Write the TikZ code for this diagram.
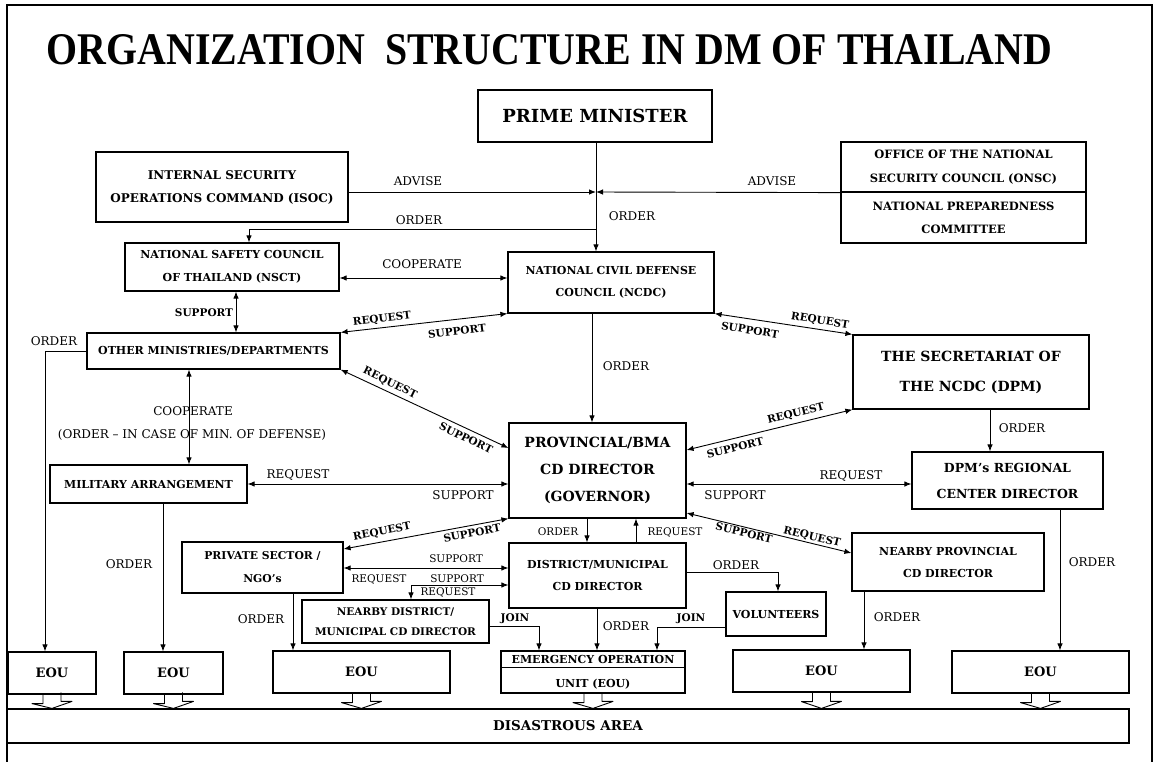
\documentclass[tikz,border=0pt]{standalone}
\usepackage{graphicx}
\usepackage{fontspec}
\setmainfont{DejaVu Serif}
\newfontfamily\titlefont{Liberation Serif}
\usetikzlibrary{arrows.meta}
\newcommand{\setfs}[2]{\fontsize{#1}{#2}\selectfont}

\begin{document}
\begin{tikzpicture}[x=1pt, y=-1pt,
    box/.style 2 args={draw, line width=1.2pt, inner sep=0pt, align=center, font=\bfseries\setfs{#1}{#2}},
    lbl/.style={inner sep=0pt, font=\setfs{12}{14}},
    lbls/.style={inner sep=0pt, font=\setfs{10.5}{12}},
    lblb/.style={inner sep=0pt, font=\bfseries\setfs{10.5}{12}},
    arr/.style={line width=0.9pt, -{Latex[length=7pt,width=5.5pt]}},
    darr/.style={line width=0.9pt, {Latex[length=7pt,width=5.5pt]}-{Latex[length=7pt,width=5.5pt]}},
    hol/.style={line width=0.9pt, line join=round}]
    \useasboundingbox (0,0) rectangle (1157,761);
    \draw[line width=1.5pt] (7,775) -- (7,5) -- (1152,5) -- (1152,775);

    % title
    \node (title) at (549.5,50) {\resizebox{1005pt}{30pt}{\titlefont\bfseries ORGANIZATION\ \ STRUCTURE IN DM OF THAILAND}};

    % boxes
    \node[box={18}{22}, minimum width=234pt, minimum height=52pt] (pm) at (595,116) {PRIME MINISTER};
    \node[box={12}{23}, minimum width=252pt, minimum height=70pt] (isoc) at (222,187) {INTERNAL SECURITY\\OPERATIONS COMMAND (ISOC)};
    \node[box={11.5}{24}, minimum width=245pt, minimum height=50pt] (onsc) at (963.5,167) {OFFICE OF THE NATIONAL\\SECURITY COUNCIL (ONSC)};
    \node[box={11.5}{23}, minimum width=245pt, minimum height=51pt] (npc) at (963.5,217.5) {NATIONAL PREPAREDNESS\\COMMITTEE};
    \node[box={11}{22}, minimum width=206pt, minimum height=61pt] (ncdc) at (611,282.5) {NATIONAL CIVIL DEFENSE\\COUNCIL (NCDC)};
    \node[box={11}{23}, minimum width=214pt, minimum height=48pt] (nsct) at (232,267) {NATIONAL SAFETY COUNCIL\\OF THAILAND (NSCT)};
    \node[box={11}{13}, minimum width=253pt, minimum height=36pt] (other) at (213.5,351) {OTHER MINISTRIES/DEPARTMENTS};
    \node[box={11}{13}, minimum width=197pt, minimum height=38pt] (mil) at (148.5,484) {MILITARY ARRANGEMENT};
    \node[box={14}{27}, minimum width=177pt, minimum height=95pt] (prov) at (597.5,470.5) {PROVINCIAL/BMA\\CD DIRECTOR\\(GOVERNOR)};
    \node[box={14}{30}, minimum width=236pt, minimum height=74pt] (secr) at (971,372) {THE SECRETARIAT OF\\THE NCDC (DPM)};
    \node[box={12.5}{26}, minimum width=191pt, minimum height=57pt] (dpm) at (1007.5,480.5) {DPM’s REGIONAL\\CENTER DIRECTOR};
    \node[box={10.8}{23}, minimum width=161pt, minimum height=51pt] (priv) at (262.5,567.5) {PRIVATE SECTOR /\\NGO’s};
    \node[box={11}{22}, minimum width=177pt, minimum height=65pt] (dist) at (597.5,575.5) {DISTRICT/MUNICIPAL\\CD DIRECTOR};
    \node[box={10.5}{20}, minimum width=187pt, minimum height=43pt] (ndist) at (395.5,621.5) {NEARBY DISTRICT/\\MUNICIPAL CD DIRECTOR};
    \node[box={11}{13}, minimum width=100pt, minimum height=44pt] (vol) at (776,614) {VOLUNTEERS};
    \node[box={11}{22}, minimum width=192pt, minimum height=58pt] (nprov) at (948,562) {NEARBY PROVINCIAL\\CD DIRECTOR};
    \node[box={13}{15}, minimum width=88pt, minimum height=42pt] (eou1) at (52,673) {EOU};
    \node[box={13}{15}, minimum width=99pt, minimum height=42pt] (eou2) at (173.5,673) {EOU};
    \node[box={13}{15}, minimum width=177pt, minimum height=42pt] (eou3) at (361.5,672) {EOU};
    \node[box={11}{24}, minimum width=184pt, minimum height=42pt] (eoum) at (593,672) {EMERGENCY OPERATION\\UNIT (EOU)};
    \node[box={13}{15}, minimum width=177pt, minimum height=42pt] (eou5) at (821.5,671) {EOU};
    \node[box={13}{15}, minimum width=177pt, minimum height=42pt] (eou6) at (1040.5,672) {EOU};
    \node[box={13.5}{16}, minimum width=1122pt, minimum height=34pt] (area) at (568,726) {DISASTROUS AREA};
    \draw[line width=0.5pt] (eoum.west |- 0,667) -- (eoum.east |- 0,667);

    % connectors
    \coordinate (jn) at (596,192);
    \draw[arr] (isoc.east |- jn) -- (jn);
    \draw[arr] (onsc.south west) -- (jn);
    \draw[arr] (pm.south -| jn) -- (ncdc.north -| jn);
    \draw[arr] (jn |- 0,229) -| ([xshift=17pt]nsct.north);
    \draw[darr] (nsct.east |- 0,278) -- (ncdc.west |- 0,278);
    \draw[darr] (nsct.south -| 236,0) -- (other.north -| 236,0);
    \draw[darr] (other.north east) -- (ncdc.south west);
    \draw[darr] (other.south east) -- (prov.west |- 0,448);
    \draw[darr] (other.south -| 189,0) -- (mil.north -| 189,0);
    \draw[darr] (mil.east) -- (prov.west |- mil.east);
    \draw[arr] (ncdc.south -| 592,0) -- (prov.north -| 592,0);
    \draw[darr] (ncdc.south east) -- (secr.north west);
    \draw[darr] (secr.south west) -- (prov.east |- 0,450);
    \draw[arr] (secr.south -| 990,0) -- (dpm.north -| 990,0);
    \draw[darr] (prov.east |- 0,484) -- (dpm.west |- 0,484);
    \draw[darr] (priv.east |- 0,549) -- (prov.south west);
    \draw[arr] (prov.south -| 587,0) -- (dist.north -| 587,0);
    \draw[arr] (dist.north -| 636,0) -- (prov.south -| 636,0);
    \draw[darr] (prov.east |- 0,513) -- (nprov.west |- 0,553);
    \draw[darr] (priv.east |- 0,568) -- (dist.west |- 0,568);
    \draw[darr] (dist.west |- 0,585) -| (ndist.north -| 411,0);
    \draw[arr] (ndist.east |- 0,626) -| (eoum.north -| 539,0);
    \draw[arr] (dist.south -| 597,0) -- (eoum.north -| 597,0);
    \draw[arr] (vol.west |- 0,627) -| (eoum.north -| 657,0);
    \draw[arr] (dist.east |- 0,572) -| (vol.north -| 778,0);
    \draw[arr] (other.west) -| (eou1.north -| 45,0);
    \draw[arr] (mil.south -| 163,0) -- (eou2.north -| 163,0);
    \draw[arr] (priv.south -| 293,0) -- (eou3.north -| 293,0);
    \draw[arr] (nprov.south -| 864,0) -- (eou5.north -| 864,0);
    \draw[arr] (dpm.south -| 1060,0) -- (eou6.north -| 1060,0);

    % open arrows into the area
    \foreach \e in {eou1,eou2,eou3,eoum,eou5,eou6}
        \draw[hol] ([xshift=-9pt]\e.south) -- ++(0,9) -- ++(-11,0) -- (\e.south |- area.north) -- ++(20,-7) -- ++(-11,0) -- ++(0,-9);

    % labels
    \node[lbl] (advl) at (418,181) {ADVISE};
    \node[lbl] (advr) at (772,181) {ADVISE};
    \node[lbl] (ordpm) at (632,216) {ORDER};
    \node[lbl] (ordns) at (419,220) {ORDER};
    \node[lbl] (coop) at (422,264) {COOPERATE};
    \node[lblb] (supns) at (204,313) {SUPPORT};
    \node[lblb, rotate=7] (reqom) at (382,319) {REQUEST};
    \node[lblb, rotate=7] (supom) at (457,331) {SUPPORT};
    \node[lbl] (ordot) at (54,341) {ORDER};
    \node[lbl] (ordnc) at (626,366) {ORDER};
    \node[lblb, rotate=-26] (reqop) at (390,383) {REQUEST};
    \node[lblb, rotate=-26] (supop) at (466,438) {SUPPORT};
    \node[lbl] (coopm) at (193,411) {COOPERATE};
    \node[lbl] (minf) at (192,435) {(ORDER -- IN CASE OF MIN. OF DEFENSE)};
    \node[lblb, rotate=-9] (reqnse) at (820,321) {REQUEST};
    \node[lblb, rotate=-9] (supnse) at (750,330) {SUPPORT};
    \node[lblb, rotate=14] (reqsp) at (796,414) {REQUEST};
    \node[lblb, rotate=14] (supsp) at (735,448) {SUPPORT};
    \node[lbl] (ordsd) at (1022,428) {ORDER};
    \node[lbl] (reqmp) at (298,475) {REQUEST};
    \node[lbl] (supmp) at (463,495) {SUPPORT};
    \node[lbl] (reqpd) at (851,476) {REQUEST};
    \node[lbl] (suppd) at (735,495) {SUPPORT};
    \node[lblb, rotate=11] (reqpp) at (382,532) {REQUEST};
    \node[lblb, rotate=11] (suppp) at (472,533) {SUPPORT};
    \node[lbls] (ordpd) at (558,532) {ORDER};
    \node[lbls] (reqdp) at (675,532) {REQUEST};
    \node[lblb, rotate=-13.5] (suppn) at (744,533) {SUPPORT};
    \node[lblb, rotate=-13.5] (reqpn) at (812,537) {REQUEST};
    \node[lbls] (supsd) at (456,559) {SUPPORT};
    \node[lbls] (reqsd) at (379,579) {REQUEST};
    \node[lbls] (supnd) at (457,579) {SUPPORT};
    \node[lbls] (reqnd) at (448,592) {REQUEST};
    \node[lbl] (orddv) at (736,565) {ORDER};
    \node[lblb] (joinn) at (515,619) {JOIN};
    \node[lblb] (joinv) at (691,619) {JOIN};
    \node[lbl] (ordde) at (626,626) {ORDER};
    \node[lbl] (ordpe) at (261,619) {ORDER};
    \node[lbl] (ordme) at (129,564) {ORDER};
    \node[lbl] (ordne) at (897,617) {ORDER};
    \node[lbl] (ordre) at (1092,562) {ORDER};
\end{tikzpicture}
\end{document}
